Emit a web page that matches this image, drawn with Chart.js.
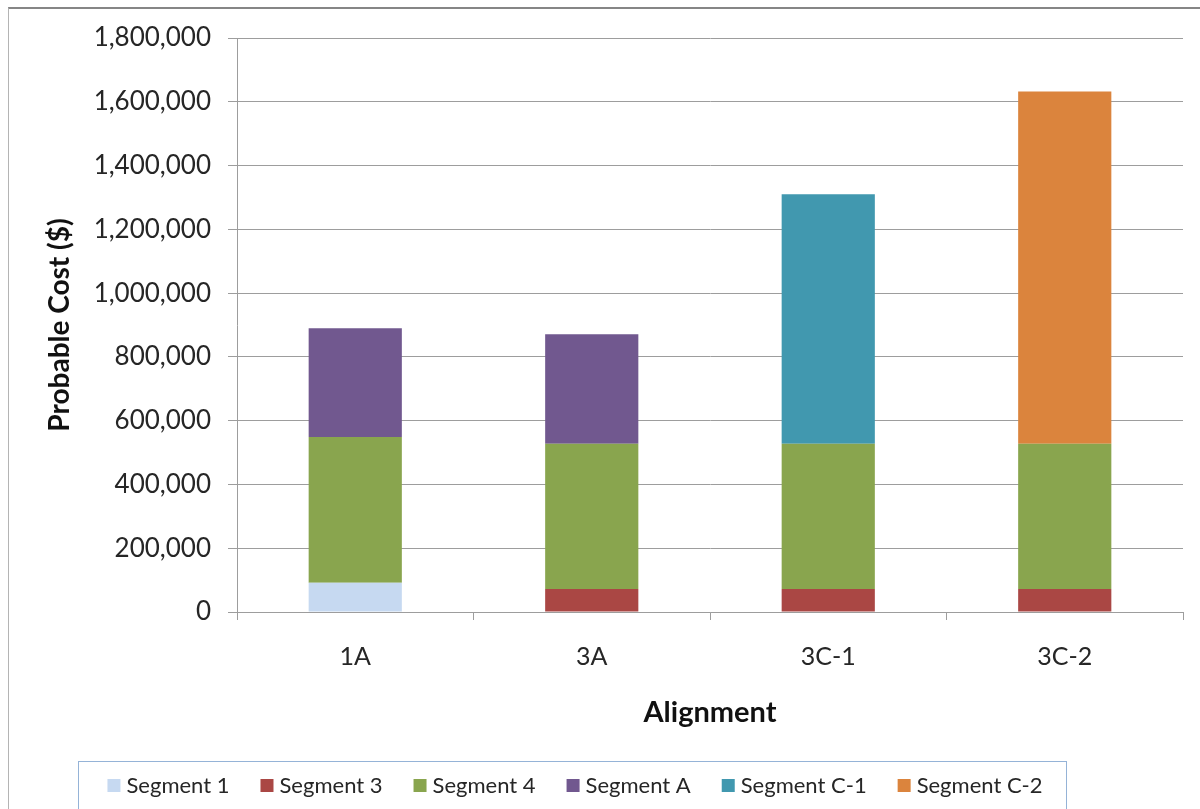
<!DOCTYPE html>
<html>
<head>
<meta charset="utf-8">
<title>Probable Cost by Alignment</title>
<script src="https://cdn.jsdelivr.net/npm/chart.js@4.4.1/dist/chart.umd.min.js"></script>
<style>
  html, body { margin: 0; padding: 0; background: #fff; overflow: hidden; }
  #frame {
    position: absolute; left: 8px; top: 7px; width: 1200px; height: 820px;
    border-top: 2px solid #868686; border-left: 1px solid #b4b4b4;
  }
  #wrap { position: absolute; left: 0; top: 0; width: 1200px; height: 809px; }
</style>
</head>
<body>
<div id="frame"></div>
<div id="wrap"><canvas id="chartCost"></canvas></div>
<script>
// categories and stacked segment values
const alignments = ["1A", "3A", "3C-1", "3C-2"];
const segment1 = [92000, null, null, null];
const segment3 = [null, 72000, 72000, 72000];
const segment4 = [457000, 456000, 456000, 456000];
const segmentA = [341000, 343000, null, null];
const segmentC1 = [null, null, 782000, null];
const segmentC2 = [null, null, null, 1104000];

const yTicks = [0, 200000, 400000, 600000, 800000, 1000000, 1200000, 1400000, 1600000, 1800000];

const textColor = "#262626";
const lineColor = "#9d9d9d";

// legend in a framed box under the chart
const boxedLegend = {
  id: "boxedLegend",
  afterDraw(chart) {
    const ctx = chart.ctx;
    ctx.save();
    ctx.strokeStyle = "#95b3d7";
    ctx.lineWidth = 1;
    ctx.strokeRect(78.5, 761.5, 988, 60);
    ctx.font = "22px Lato";
    ctx.textBaseline = "middle";
    const items = chart.data.datasets.map((ds) => ({
      label: ds.label,
      color: ds.backgroundColor,
      w: ctx.measureText(ds.label).width,
    }));
    const total = items.reduce((s, it) => s + 19 + it.w, 0) + 31 * (items.length - 1);
    let x = 575 - total / 2;
    items.forEach((it) => {
      ctx.fillStyle = it.color;
      ctx.fillRect(x, 779, 13, 13);
      ctx.fillStyle = textColor;
      ctx.fillText(it.label, x + 19, 786);
      x += 19 + it.w + 31;
    });
    ctx.restore();
  },
};

const dataBar = {
  labels: alignments,
  datasets: [
    { label: "Segment 1", data: segment1, backgroundColor: "#c6d9f1" },
    { label: "Segment 3", data: segment3, backgroundColor: "#aa4744" },
    { label: "Segment 4", data: segment4, backgroundColor: "#89a54e" },
    { label: "Segment A", data: segmentA, backgroundColor: "#71588f" },
    { label: "Segment C-1", data: segmentC1, backgroundColor: "#4198af" },
    { label: "Segment C-2", data: segmentC2, backgroundColor: "#db843d" },
  ],
};

const configBar = {
  type: "bar",
  data: dataBar,
  options: {
    responsive: true,
    maintainAspectRatio: false,
    animation: false,
    datasets: { bar: { categoryPercentage: 0.394, barPercentage: 1 } },
    layout: { padding: { top: 38, right: 17, bottom: 69, left: 0 } },
    plugins: { legend: { display: false }, tooltip: { enabled: false } },
    scales: {
      x: {
        stacked: true,
        afterFit: (scale) => { scale.height = 128; },
        grid: { drawOnChartArea: false, tickLength: 8, color: lineColor },
        border: { color: lineColor },
        ticks: { color: textColor, font: { family: "Lato", size: 25 }, padding: 22 },
        title: {
          display: true,
          text: "Alignment",
          color: "#111",
          font: { family: "Lato", size: 29, weight: "bold" },
          padding: { top: 0, bottom: 10 },
        },
      },
      y: {
        stacked: true,
        min: 0,
        max: 1800000,
        afterFit: (scale) => { scale.width = 237; },
        afterBuildTicks: (scale) => { scale.ticks = yTicks.map((v) => ({ value: v })); },
        grid: { color: lineColor, tickLength: 9 },
        border: { color: lineColor },
        ticks: {
          color: textColor,
          font: { family: "Lato", size: 26 },
          padding: 17,
          callback: (v) => v.toLocaleString("en-US"),
        },
        title: {
          display: true,
          text: "Probable Cost ($)",
          color: "#111",
          font: { family: "Lato", size: 28, weight: "bold" },
          padding: { top: 43, bottom: 0 },
        },
      },
    },
  },
  plugins: [boxedLegend],
};

const chartBar = new Chart(document.getElementById("chartCost"), configBar);
</script>
</body>
</html>
